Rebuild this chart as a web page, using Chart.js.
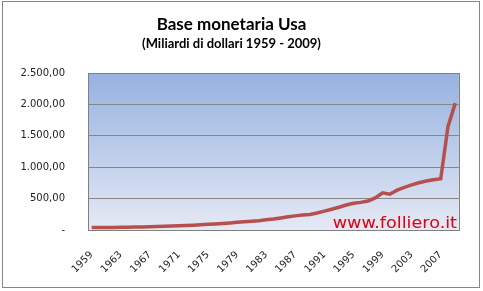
<!DOCTYPE html>
<html>
<head>
<meta charset="utf-8">
<script src="https://cdn.jsdelivr.net/npm/chart.js@4.4.0/dist/chart.umd.min.js"></script>
<style>
  html, body { margin: 0; padding: 0; background: #fff; }
  #wrap { position: relative; width: 483px; height: 291px; }
  #frame { position: absolute; left: 2px; top: 1px; width: 476px; height: 285px; border: 1px solid #868686; pointer-events: none; }
  #mark { position: absolute; right: 26px; top: 215px; font: 16px/16px "DejaVu Sans", Verdana, sans-serif; color: #e0000f;
          transform: scaleX(1.1); transform-origin: right center; white-space: nowrap; }
</style>
</head>
<body>
<div id="wrap">
  <canvas id="c" width="483" height="291"></canvas>
  <div id="frame"></div>
  <div id="mark">www.folliero.it</div>
</div>
<script>
/* Base monetaria USA, miliardi di dollari */
var years = [];
for (var y = 1959; y <= 2009; y++) years.push(String(y));

var base = [
  38, 39, 40, 41, 43, 45, 47, 49, 52, 55,
  58, 62, 66, 71, 77, 83, 90, 97, 104, 113,
  122, 131, 139, 149, 162, 174, 192, 210, 225, 238,
  248, 272, 300, 330, 362, 398, 425, 440, 462, 510,
  593, 570, 635, 680, 718, 752, 780, 800, 818, 1650,
  2020
];

var yTicks = [0, 500, 1000, 1500, 2000, 2500];

function fmtIt(v) {
  if (v === 0) return '-';
  var s = String(Math.round(v));
  s = s.replace(/\B(?=(\d{3})+(?!\d))/g, '.');
  return s + ',00';
}

var plotBg = {
  id: 'plotBg',
  beforeDraw: function(chart) {
    var a = chart.chartArea;
    var ctx = chart.ctx;
    var g = ctx.createLinearGradient(0, a.top, 0, a.bottom);
    g.addColorStop(0, '#97b2e0');
    g.addColorStop(0.5, '#bccdea');
    g.addColorStop(1, '#e6e9f4');
    ctx.save();
    ctx.fillStyle = g;
    ctx.fillRect(a.left, a.top, a.right - a.left, a.bottom - a.top);
    ctx.restore();
  },
  afterDatasetsDraw: function(chart) {
    var a = chart.chartArea;
    var ctx = chart.ctx;
    ctx.save();
    ctx.strokeStyle = '#808080';
    ctx.lineWidth = 1;
    ctx.strokeRect(Math.round(a.left) + 0.5, Math.round(a.top) + 0.5, Math.round(a.right - a.left), Math.round(a.bottom - a.top));
    ctx.restore();
  }
};

new Chart(document.getElementById('c'), {
  type: 'line',
  data: {
    labels: years,
    datasets: [{
      label: 'Base monetaria',
      data: base,
      borderColor: '#b5504d',
      borderWidth: 3.5,
      pointRadius: 0,
      tension: 0,
      fill: false
    }]
  },
  options: {
    responsive: false,
    animation: false,
    layout: { padding: { left: 4, right: 24, top: 0, bottom: 4 } },
    plugins: {
      legend: { display: false },
      tooltip: { enabled: false },
      title: {
        display: true,
        text: 'Base monetaria Usa',
        color: '#000',
        font: { family: 'Lato', size: 17, weight: 'bold' },
        padding: { top: 14, bottom: 2 }
      },
      subtitle: {
        display: true,
        text: '(Miliardi di dollari 1959 - 2009)',
        color: '#000',
        font: { family: 'Lato', size: 13, weight: 'bold' },
        padding: { top: 0, bottom: 21 }
      }
    },
    scales: {
      x: {
        offset: true,
        grid: { display: false, drawTicks: false },
        border: { display: false },
        ticks: {
          autoSkip: false,
          minRotation: 45,
          maxRotation: 45,
          padding: 19,
          color: '#222',
          font: { family: 'DejaVu Sans', size: 10 },
          callback: function(v, i) { return i % 4 === 0 ? years[i] : ''; }
        },
        afterFit: function(s) { s.height = 57; }
      },
      y: {
        min: 0,
        max: 2500,
        afterBuildTicks: function(s) { s.ticks = yTicks.map(function(v) { return { value: v }; }); },
        grid: { color: '#868686', lineWidth: 1, drawTicks: false },
        border: { display: false },
        ticks: {
          padding: 23,
          color: '#222',
          font: { family: 'DejaVu Sans', size: 10 },
          callback: function(v) { return fmtIt(v); }
        },
        afterFit: function(s) { s.width = 84; }
      }
    }
  },
  plugins: [plotBg]
});
</script>
</body>
</html>
